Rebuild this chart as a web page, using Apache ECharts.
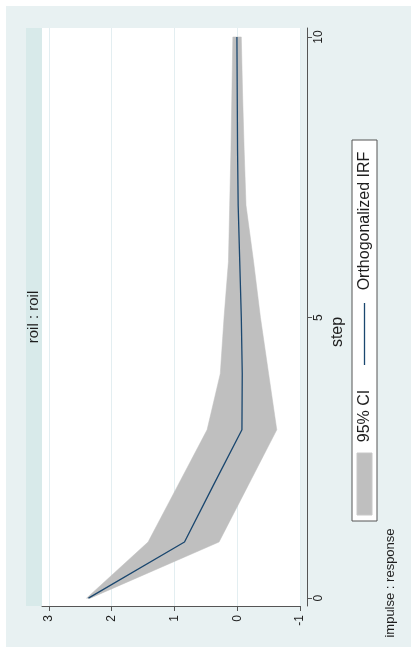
<!DOCTYPE html>
<html>
<head>
<meta charset="utf-8">
<script src="https://cdn.jsdelivr.net/npm/echarts@6/dist/echarts.min.js"></script>
<style>
html, body { margin: 0; padding: 0; background: #fff; }
#main { width: 411px; height: 653px; }
</style>
</head>
<body>
<div id="main"></div>
<script>
// irf graph, turned on its side like the source picture
var steps = [0, 1, 2, 3, 4, 5, 6, 7, 8, 9, 10];
var irf = [2.37, 0.84, 0.385, -0.075, -0.08, -0.065, -0.04, -0.015, -0.005, 0, 0.005];
var ciUpper = [2.40, 1.42, 0.95, 0.48, 0.27, 0.21, 0.14, 0.12, 0.10, 0.085, 0.07];
var ciLower = [2.34, 0.29, -0.17, -0.63, -0.50, -0.37, -0.26, -0.14, -0.11, -0.085, -0.065];
var stepTicks = [0, 5, 10];
var respTicks = [-1, 0, 1, 2, 3];

var font = "'Liberation Sans', Arial, sans-serif";
var txt = '#1e1e1e';

var chart = echarts.init(document.getElementById('main'));

var linePts = [];
for (var i = 0; i < steps.length; i++) {
    linePts.push([irf[i], steps[i]]);
}

chart.setOption({
    backgroundColor: '#fff',
    animation: false,
    grid: {
        left: 42,
        right: 111,
        top: 28,
        bottom: 47,
        show: false
    },
    xAxis: {
        type: 'value',
        inverse: true,
        min: -1,
        max: 3.11,
        interval: 1,
        position: 'bottom',
        axisLine: { show: true, onZero: false, lineStyle: { color: '#555', width: 1 } },
        axisTick: { show: true, length: 5, customValues: respTicks, lineStyle: { color: '#555' } },
        axisLabel: {
            customValues: respTicks,
            rotate: 90,
            margin: 9,
            fontSize: 12,
            fontFamily: font,
            color: txt
        },
        splitLine: { show: true, lineStyle: { color: '#e3eef1', width: 1 } }
    },
    yAxis: {
        type: 'value',
        position: 'right',
        offset: 7,
        min: -0.14,
        max: 10.16,
        axisLine: { show: true, onZero: false, lineStyle: { color: '#555', width: 1 } },
        axisTick: { show: true, length: 5, customValues: stepTicks, lineStyle: { color: '#555' } },
        axisLabel: {
            customValues: stepTicks,
            rotate: 90,
            margin: 6,
            fontSize: 12,
            fontFamily: font,
            color: txt
        },
        splitLine: { show: false }
    },
    graphic: [
        // outer graph region
        { type: 'rect', z: -100, silent: true, shape: { x: 6, y: 6, width: 405, height: 641 }, style: { fill: '#e8f1f2' } },
        // plot region
        { type: 'rect', z: -90, silent: true, shape: { x: 42, y: 28, width: 258, height: 578 }, style: { fill: '#fff' } },
        // by-title strip
        { type: 'rect', z: -90, silent: true, shape: { x: 26, y: 28, width: 16, height: 578 }, style: { fill: '#d8eaea' } },
        { type: 'text', x: 34, y: 317, rotation: Math.PI / 2, silent: true,
          style: { text: 'roil : roil', fontSize: 15, fontFamily: font, fill: txt, align: 'center', verticalAlign: 'middle' } },
        // axis title
        { type: 'text', x: 338, y: 332, rotation: Math.PI / 2, silent: true,
          style: { text: 'step', fontSize: 16, fontFamily: font, fill: txt, align: 'center', verticalAlign: 'middle' } },
        // legend box
        { type: 'rect', z: 5, silent: true, shape: { x: 352, y: 140, width: 25, height: 381 }, style: { fill: '#fff', stroke: '#555', lineWidth: 1 } },
        { type: 'text', z: 6, x: 365, y: 221, rotation: Math.PI / 2, silent: true,
          style: { text: 'Orthogonalized IRF', fontSize: 16, fontFamily: font, fill: txt, align: 'center', verticalAlign: 'middle' } },
        { type: 'line', z: 6, silent: true, shape: { x1: 364.5, y1: 303, x2: 364.5, y2: 365 }, style: { stroke: '#1a476f', lineWidth: 1.3 } },
        { type: 'text', z: 6, x: 365, y: 416, rotation: Math.PI / 2, silent: true,
          style: { text: '95% CI', fontSize: 16, fontFamily: font, fill: txt, align: 'center', verticalAlign: 'middle' } },
        { type: 'rect', z: 6, silent: true, shape: { x: 357, y: 453, width: 15, height: 62 }, style: { fill: '#bfbfbf', stroke: '#c8c8c8', lineWidth: 1 } },
        // note
        { type: 'text', x: 390, y: 583, rotation: Math.PI / 2, silent: true,
          style: { text: 'impulse : response', fontSize: 13, fontFamily: font, fill: txt, align: 'center', verticalAlign: 'middle' } }
    ],
    series: [{
        name: '95% CI',
        type: 'custom',
        data: [0],
        z: 2,
        renderItem: function (params, api) {
            var pts = [];
            for (var i = 0; i < steps.length; i++) {
                pts.push(api.coord([ciUpper[i], steps[i]]));
            }
            for (var j = steps.length - 1; j >= 0; j--) {
                pts.push(api.coord([ciLower[j], steps[j]]));
            }
            return {
                type: 'polygon',
                shape: { points: pts },
                style: { fill: '#bfbfbf', stroke: '#bfbfbf', lineWidth: 0.5 }
            };
        }
    }, {
        name: 'Orthogonalized IRF',
        type: 'line',
        z: 3,
        data: linePts,
        symbol: 'none',
        lineStyle: { color: '#1a476f', width: 1.3 }
    }]
});
</script>
</body>
</html>
